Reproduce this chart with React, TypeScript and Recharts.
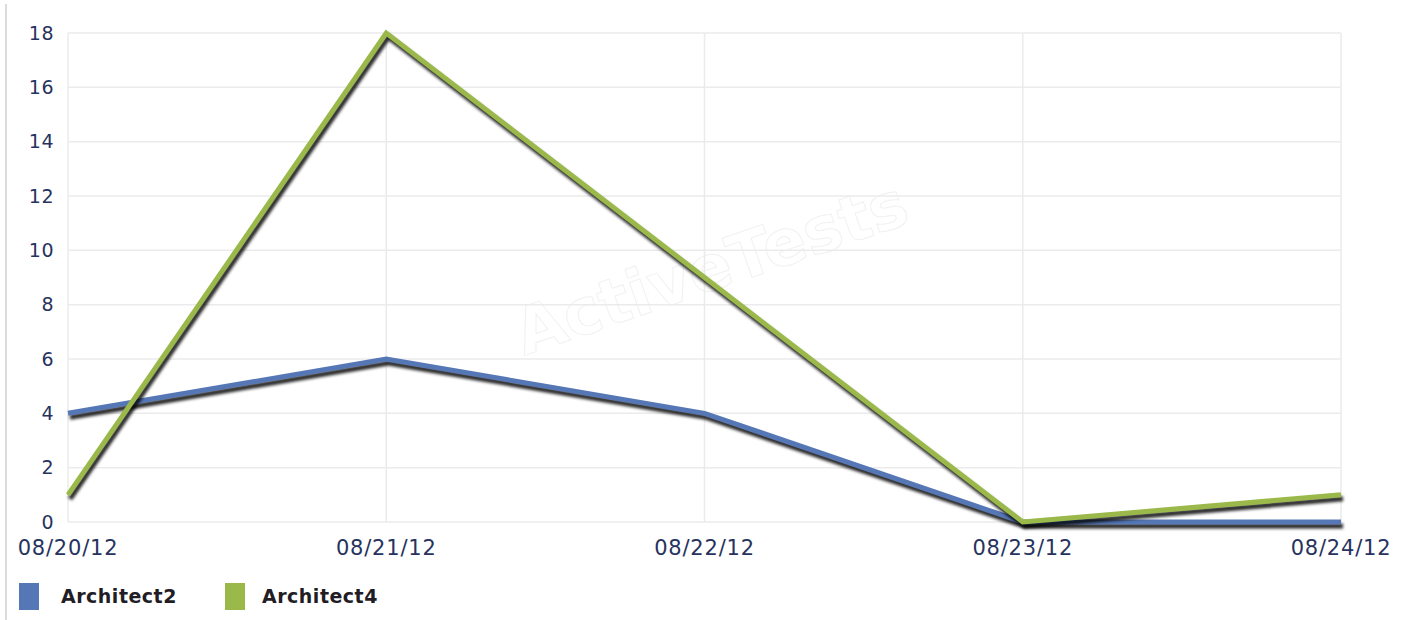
import React from 'react';
import { LineChart, Line, XAxis, YAxis, CartesianGrid } from 'recharts';

const DATES = ['08/20/12', '08/21/12', '08/22/12', '08/23/12', '08/24/12'];
const ARCHITECT2 = [4, 6, 4, 0, 0];
const ARCHITECT4 = [1, 18, 9, 0, 1];
const Y_TICKS = [0, 2, 4, 6, 8, 10, 12, 14, 16, 18];

const SERIES = [
  { key: 'Architect2', color: '#5677b5', swatchX: 19, textX: 61 },
  { key: 'Architect4', color: '#9ab94a', swatchX: 225, textX: 262 },
];

const data = DATES.map((date, i) => ({
  date,
  Architect2: ARCHITECT2[i],
  Architect4: ARCHITECT4[i],
}));

const FONT = '"DejaVu Sans", Verdana, sans-serif';
const TICK_COLOR = '#27335e';

export default function App() {
  return (
    <div
      style={{
        position: 'absolute',
        left: 0,
        top: 0,
        width: 1407,
        height: 620,
        background: '#fff',
        overflow: 'hidden',
      }}
    >
      <style>{`
        .shadow-line .recharts-line-curve {
          filter: drop-shadow(2px 4px 1.5px rgba(0,0,0,0.85));
        }
      `}</style>
      {/* faint frame line on the left */}
      <div style={{ position: 'absolute', left: 5, top: 4, width: 2, height: 616, background: '#dcdcdc' }} />

      {/* watermark */}
      <div
        style={{
          position: 'absolute',
          left: 505,
          top: 300,
          fontFamily: FONT,
          fontSize: 64,
          fontWeight: 'bold',
          color: 'transparent',
          WebkitTextStroke: '1px #f1f1f1',
          transform: 'rotate(-19deg)',
          transformOrigin: 'left top',
          whiteSpace: 'nowrap',
        }}
      >
        ActiveTests
      </div>

      <div style={{ position: 'absolute', left: 0, top: 0 }}>
        <LineChart
          width={1407}
          height={570}
          data={data}
          margin={{ top: 33, right: 66, left: 8, bottom: 0 }}
        >
          <CartesianGrid stroke="#ebebeb" strokeWidth={1.5} />
          <XAxis
            dataKey="date"
            axisLine={false}
            tickLine={false}
            tickSize={0}
            tickMargin={18}
            height={48}
            interval={0}
            tick={{ fontFamily: FONT, fontSize: 21, fill: TICK_COLOR, letterSpacing: 0.8 }}
          />
          <YAxis
            domain={[0, 18]}
            ticks={Y_TICKS}
            axisLine={false}
            tickLine={false}
            tickSize={0}
            tickMargin={14}
            width={60}
            tick={{ fontFamily: FONT, fontSize: 19, fill: TICK_COLOR, letterSpacing: 0.5 }}
          />
          {SERIES.map((s) => (
            <Line
              key={s.key}
              className="shadow-line"
              type="linear"
              dataKey={s.key}
              stroke={s.color}
              strokeWidth={5}
              dot={false}
              activeDot={false}
              isAnimationActive={false}
            />
          ))}
        </LineChart>
      </div>

      {SERIES.map((s) => (
        <React.Fragment key={s.key}>
          <div
            style={{
              position: 'absolute',
              left: s.swatchX,
              top: 583,
              width: 20,
              height: 27,
              background: s.color,
            }}
          />
          <div
            style={{
              position: 'absolute',
              left: s.textX,
              top: 583,
              lineHeight: '27px',
              fontFamily: FONT,
              fontSize: 19,
              fontWeight: 'bold',
              letterSpacing: 0.5,
              color: '#221c24',
              whiteSpace: 'nowrap',
            }}
          >
            {s.key}
          </div>
        </React.Fragment>
      ))}
    </div>
  );
}
